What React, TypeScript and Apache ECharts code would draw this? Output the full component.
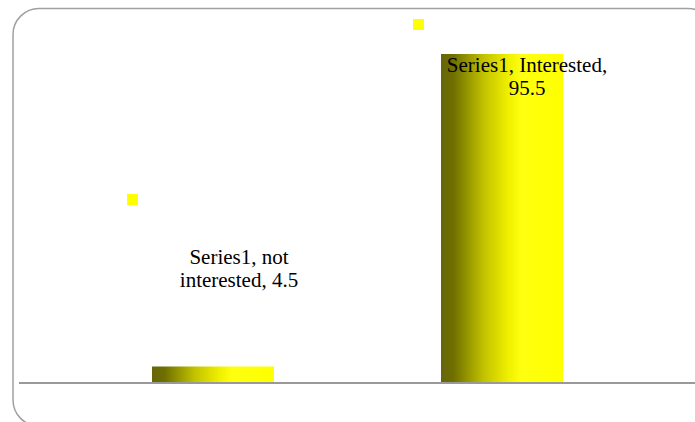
import React, { useEffect, useRef } from "react";
import * as echarts from "echarts";

const seriesName = "Series1";
const categories = ["not interested", "Interested"];
const values = [4.5, 95.5];
const yMin = 0;
const yMax = 100;

export default function App() {
  const ref = useRef<HTMLDivElement>(null);
  useEffect(() => {
    document.body.style.margin = "0";
    const chart = echarts.init(ref.current!, undefined, { renderer: "svg" });
    const barGradient = new echarts.graphic.LinearGradient(0, 0, 1, 0, [
      { offset: 0, color: "#66660a" },
      { offset: 0.1, color: "#6e6e00" },
      { offset: 0.35, color: "#c2c200" },
      { offset: 0.55, color: "#efef00" },
      { offset: 0.66, color: "#ffff10" },
      { offset: 1, color: "#ffff00" },
    ]);
    const labelOffsets: [number, number][] = [
      [87, -98],
      [86, 23],
    ];
    chart.setOption({
      animation: false,
      grid: { left: 68.5, right: 48.5, top: 38.5, bottom: 40 },
      xAxis: {
        type: "category",
        data: categories,
        boundaryGap: true,
        axisLine: { show: false },
        axisTick: { show: false },
        axisLabel: { show: false },
      },
      yAxis: {
        type: "value",
        min: yMin,
        max: yMax,
        show: false,
        splitLine: { show: false },
      },
      series: [
        {
          name: seriesName,
          type: "bar",
          barWidth: 122,
          data: values.map((v, i) => ({
            value: v,
            label: {
              show: true,
              position: labelOffsets[i],
              align: "center",
              verticalAlign: "middle",
              fontFamily: "Liberation Serif",
              fontSize: 21,
              lineHeight: 23,
              color: "#000",
              formatter: () => {
                const words = `${seriesName}, ${categories[i]}, ${v}`.split(" ");
                return words.slice(0, 2).join(" ") + "\n" + words.slice(2).join(" ");
              },
            },
          })),
          itemStyle: { color: barGradient },
        },
      ],
      graphic: [
        {
          type: "rect",
          shape: { x: 13, y: 8.5, width: 701, height: 417.5, r: 26 },
          style: { fill: "none", stroke: "#a0a0a0", lineWidth: 1.5 },
          z: 0,
        },
        {
          type: "line",
          shape: { x1: 19, y1: 383, x2: 695, y2: 383 },
          style: { stroke: "#999999", lineWidth: 2 },
          z: 10,
        },
        {
          type: "rect",
          shape: { x: 127, y: 194, width: 11, height: 11 },
          style: { fill: "#ffff00" },
        },
        {
          type: "rect",
          shape: { x: 413, y: 19, width: 11, height: 11 },
          style: { fill: "#ffff00" },
        },
      ],
    });
    return () => chart.dispose();
  }, []);
  return <div ref={ref} style={{ width: 695, height: 422 }} />;
}
